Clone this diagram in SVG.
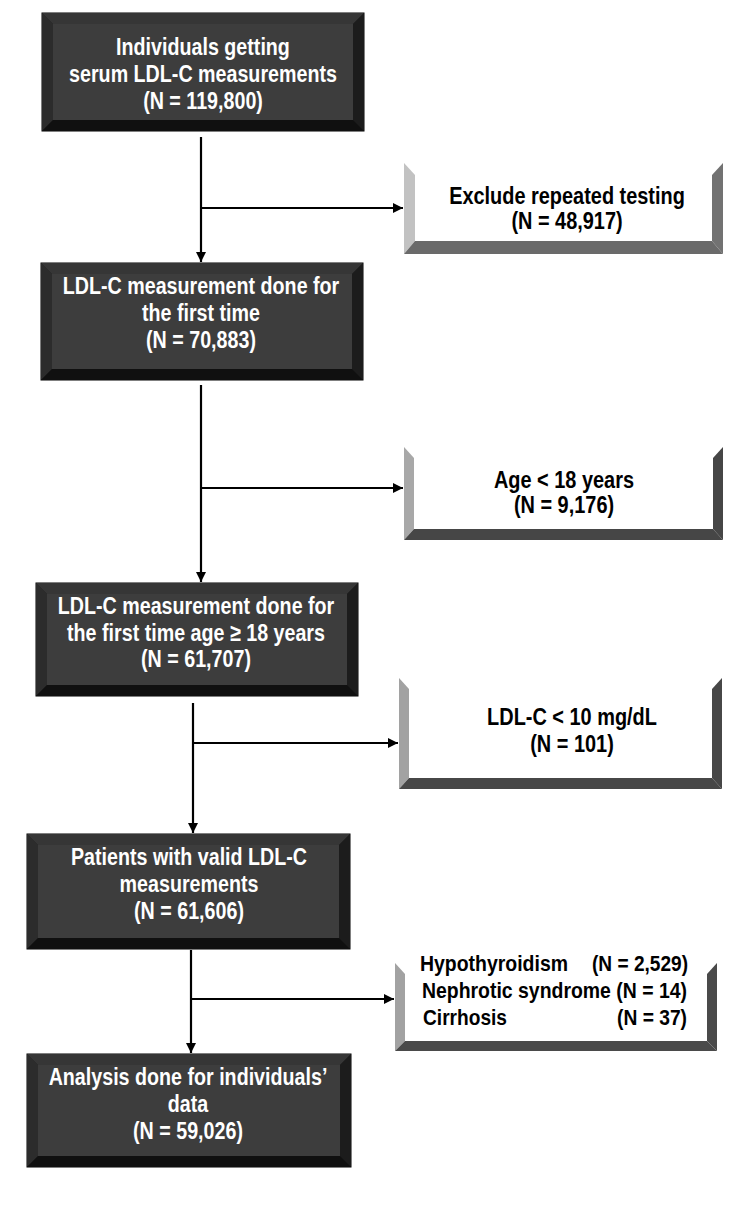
<svg xmlns="http://www.w3.org/2000/svg" width="750" height="1207" viewBox="0 0 750 1207">
<defs>
<style>
.t{font-family:"Liberation Sans",Arial,sans-serif;font-weight:bold;font-size:24px}
.s{font-size:22px}
.w{fill:#ffffff}
.k{fill:#000000}
.ln{stroke:#000;stroke-width:2.2;fill:none}
.face{fill:#3d3d3d}
.bt{fill:#363636}
.bl{fill:#2c2c2c}
.br{fill:#1c1c1c}
.bb{fill:#101010}
.outer{fill:#1e1e1e;stroke:#000;stroke-width:1}
.ew{fill:#ffffff}
</style>
<marker id="ah" viewBox="0 0 10 10" refX="10" refY="5" markerWidth="10" markerHeight="10" markerUnits="userSpaceOnUse" orient="auto">
<path d="M0,0 L10,5 L0,10 Z" fill="#000"/>
</marker>
</defs>
<rect width="750" height="1207" fill="#ffffff"/>

<g id="connectors">
<path class="ln" d="M201,137 V262" marker-end="url(#ah)"/>
<path class="ln" d="M201,208 H403" marker-end="url(#ah)"/>
<path class="ln" d="M201,385 V582" marker-end="url(#ah)"/>
<path class="ln" d="M201,488 H403" marker-end="url(#ah)"/>
<path class="ln" d="M193,703 V833" marker-end="url(#ah)"/>
<path class="ln" d="M193,743 H398" marker-end="url(#ah)"/>
<path class="ln" d="M191,950 V1053" marker-end="url(#ah)"/>
<path class="ln" d="M191,999 H394" marker-end="url(#ah)"/>
</g>

<g id="box1">
<rect class="outer" x="42" y="13" width="322" height="118"/>
<polygon class="bt" points="42,13 364,13 353,24 53,24"/>
<polygon class="bl" points="42,13 53,24 53,120 42,131"/>
<polygon class="br" points="364,13 353,24 353,120 364,131"/>
<polygon class="bb" points="42,131 53,120 353,120 364,131"/>
<rect class="face" x="53" y="24" width="300" height="96"/>
<text class="t w" text-anchor="middle" transform="translate(203 0) scale(0.82 1)" x="0" y="55">Individuals getting</text>
<text class="t w" text-anchor="middle" transform="translate(203 0) scale(0.82 1)" x="0" y="82">serum LDL-C measurements</text>
<text class="t w" text-anchor="middle" transform="translate(203 0) scale(0.82 1)" x="0" y="109">(N = 119,800)</text>
</g>

<g id="excl1">
<rect class="ew" x="404" y="163" width="319" height="91"/>
<polygon fill="#c2c2c2" points="404,163 415,175 415,241 404,254"/>
<polygon fill="#727272" points="723,163 712,175 712,241 723,254"/>
<polygon fill="#6a6a6a" points="404,254 415,241 712,241 723,254"/>
<text class="t k" text-anchor="middle" transform="translate(567 0) scale(0.83 1)" x="0" y="204">Exclude repeated testing</text>
<text class="t k" text-anchor="middle" transform="translate(567 0) scale(0.83 1)" x="0" y="229">(N = 48,917)</text>
</g>

<g id="box2">
<rect class="outer" x="41" y="263" width="322" height="117"/>
<polygon class="bt" points="41,263 363,263 352,274 52,274"/>
<polygon class="bl" points="41,263 52,274 52,369 41,380"/>
<polygon class="br" points="363,263 352,274 352,369 363,380"/>
<polygon class="bb" points="41,380 52,369 352,369 363,380"/>
<rect class="face" x="52" y="274" width="300" height="95"/>
<text class="t w" text-anchor="middle" transform="translate(201 0) scale(0.82 1)" x="0" y="294">LDL-C measurement done for</text>
<text class="t w" text-anchor="middle" transform="translate(201 0) scale(0.82 1)" x="0" y="321">the first time</text>
<text class="t w" text-anchor="middle" transform="translate(201 0) scale(0.82 1)" x="0" y="348">(N = 70,883)</text>
</g>

<g id="excl2">
<rect class="ew" x="404" y="447" width="319" height="93"/>
<polygon fill="#a8a8a8" points="404,447 414,458 414,529 404,540"/>
<polygon fill="#464646" points="723,447 713,458 713,529 723,540"/>
<polygon fill="#464646" points="404,540 414,529 713,529 723,540"/>
<text class="t k" text-anchor="middle" transform="translate(564 0) scale(0.83 1)" x="0" y="488">Age &lt; 18 years</text>
<text class="t k" text-anchor="middle" transform="translate(564 0) scale(0.83 1)" x="0" y="513">(N = 9,176)</text>
</g>

<g id="box3">
<rect class="outer" x="36" y="583" width="322" height="113"/>
<polygon class="bt" points="36,583 358,583 347,594 47,594"/>
<polygon class="bl" points="36,583 47,594 47,685 36,696"/>
<polygon class="br" points="358,583 347,594 347,685 358,696"/>
<polygon class="bb" points="36,696 47,685 347,685 358,696"/>
<rect class="face" x="47" y="594" width="300" height="91"/>
<text class="t w" text-anchor="middle" transform="translate(196 0) scale(0.82 1)" x="0" y="614">LDL-C measurement done for</text>
<text class="t w" text-anchor="middle" transform="translate(196 0) scale(0.82 1)" x="0" y="641">the first time age ≥ 18 years</text>
<text class="t w" text-anchor="middle" transform="translate(196 0) scale(0.82 1)" x="0" y="667">(N = 61,707)</text>
</g>

<g id="excl3">
<rect class="ew" x="399" y="678" width="323" height="111"/>
<polygon fill="#a2a2a2" points="399,678 409,689 409,778 399,789"/>
<polygon fill="#474747" points="722,678 712,689 712,778 722,789"/>
<polygon fill="#474747" points="399,789 409,778 712,778 722,789"/>
<text class="t k" text-anchor="middle" transform="translate(572 0) scale(0.83 1)" x="0" y="725">LDL-C &lt; 10 mg/dL</text>
<text class="t k" text-anchor="middle" transform="translate(572 0) scale(0.83 1)" x="0" y="752">(N = 101)</text>
</g>

<g id="box4">
<rect class="outer" x="27" y="834" width="323" height="115"/>
<polygon class="bt" points="27,834 350,834 339,845 38,845"/>
<polygon class="bl" points="27,834 38,845 38,938 27,949"/>
<polygon class="br" points="350,834 339,845 339,938 350,949"/>
<polygon class="bb" points="27,949 38,938 339,938 350,949"/>
<rect class="face" x="38" y="845" width="301" height="93"/>
<text class="t w" text-anchor="middle" transform="translate(189 0) scale(0.82 1)" x="0" y="865">Patients with valid LDL-C</text>
<text class="t w" text-anchor="middle" transform="translate(189 0) scale(0.82 1)" x="0" y="892">measurements</text>
<text class="t w" text-anchor="middle" transform="translate(189 0) scale(0.82 1)" x="0" y="919">(N = 61,606)</text>
</g>

<g id="excl4">
<rect class="ew" x="395" y="963" width="322" height="88"/>
<polygon fill="#a2a2a2" points="395,963 405,974 405,1041 395,1051"/>
<polygon fill="#4a4a4a" points="717,963 707,974 707,1041 717,1051"/>
<polygon fill="#4a4a4a" points="395,1051 405,1041 707,1041 717,1051"/>
<text class="t s k" x="420" y="971" textLength="148" lengthAdjust="spacingAndGlyphs">Hypothyroidism</text>
<text class="t s k" x="592" y="971" textLength="96" lengthAdjust="spacingAndGlyphs">(N = 2,529)</text>
<text class="t s k" x="422" y="998" textLength="265" lengthAdjust="spacingAndGlyphs">Nephrotic syndrome (N = 14)</text>
<text class="t s k" x="423" y="1025" textLength="84" lengthAdjust="spacingAndGlyphs">Cirrhosis</text>
<text class="t s k" x="617" y="1025" textLength="70" lengthAdjust="spacingAndGlyphs">(N = 37)</text>
</g>

<g id="box5">
<rect class="outer" x="27" y="1054" width="324" height="113"/>
<polygon class="bt" points="27,1054 351,1054 340,1065 38,1065"/>
<polygon class="bl" points="27,1054 38,1065 38,1156 27,1167"/>
<polygon class="br" points="351,1054 340,1065 340,1156 351,1167"/>
<polygon class="bb" points="27,1167 38,1156 340,1156 351,1167"/>
<rect class="face" x="38" y="1065" width="302" height="91"/>
<text class="t w" text-anchor="middle" transform="translate(188 0) scale(0.82 1)" x="0" y="1085">Analysis done for individuals’</text>
<text class="t w" text-anchor="middle" transform="translate(188 0) scale(0.82 1)" x="0" y="1112">data</text>
<text class="t w" text-anchor="middle" transform="translate(188 0) scale(0.82 1)" x="0" y="1139">(N = 59,026)</text>
</g>
</svg>
